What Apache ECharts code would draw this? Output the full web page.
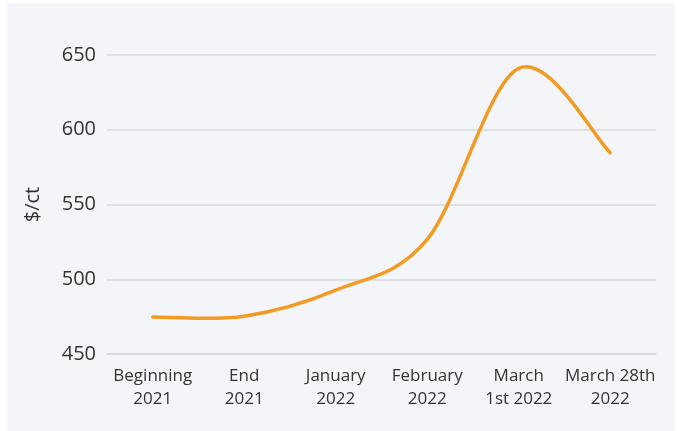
<!DOCTYPE html>
<html>
<head>
<meta charset="utf-8">
<script src="https://cdn.jsdelivr.net/npm/echarts@6/dist/echarts.min.js"></script>
<style>
html,body{margin:0;padding:0;background:#ffffff;width:681px;height:431px;overflow:hidden;}
#chart{position:absolute;left:7px;top:3px;width:668px;height:428px;}
</style>
</head>
<body>
<div id="chart"></div>
<script>
const categories = ["Beginning\n2021", "End\n2021", "January\n2022", "February\n2022", "March\n1st 2022", "March 28th\n2022"];
const prices = [474.8, 475.3, 492.7, 526.6, 641, 584.6];
const yTicks = {min: 450, max: 650, interval: 50};
const yName = "$/ct";

const seriesData = prices.map((v, i) => [i, v]);

function renderSmoothLine(params, api) {
  if (params.dataIndex !== 0) return null;
  const pts = prices.map((v, i) => api.coord([i, v]));
  const n = pts.length;
  let d = 'M' + pts[0][0] + ' ' + pts[0][1];
  for (let i = 0; i < n - 1; i++) {
    const p0 = pts[Math.max(i - 1, 0)];
    const p1 = pts[i];
    const p2 = pts[i + 1];
    const p3 = pts[Math.min(i + 2, n - 1)];
    const c1x = p1[0] + (p2[0] - p0[0]) / 6;
    const c1y = p1[1] + (p2[1] - p0[1]) / 6;
    const c2x = p2[0] - (p3[0] - p1[0]) / 6;
    const c2y = p2[1] - (p3[1] - p1[1]) / 6;
    d += ' C' + c1x + ' ' + c1y + ' ' + c2x + ' ' + c2y + ' ' + p2[0] + ' ' + p2[1];
  }
  return {
    type: 'path',
    shape: {pathData: d},
    style: {stroke: '#F29A22', lineWidth: 3.5, fill: 'none', lineCap: 'round', lineJoin: 'round'},
    silent: true
  };
}

const chart = echarts.init(document.getElementById('chart'), null, {renderer: 'canvas'});
chart.setOption({
  backgroundColor: '#F4F5F9',
  animation: false,
  textStyle: {fontFamily: 'Open Sans'},
  grid: {left: 100, right: 19, top: 52, bottom: 77},
  xAxis: {
    type: 'category',
    data: categories,
    boundaryGap: true,
    axisLine: {show: true, lineStyle: {color: '#D9D9D9', width: 1.5}},
    axisTick: {show: false},
    axisLabel: {color: '#333333', fontSize: 17, lineHeight: 23, margin: 11, interval: 0, fontFamily: 'Open Sans'}
  },
  yAxis: {
    type: 'value',
    min: yTicks.min,
    max: yTicks.max,
    interval: yTicks.interval,
    name: yName,
    nameLocation: 'middle',
    nameGap: 64,
    nameRotate: 90,
    nameTextStyle: {color: '#333333', fontSize: 20, fontFamily: 'Open Sans'},
    axisLine: {show: false},
    axisTick: {show: false},
    axisLabel: {color: '#333333', fontSize: 20, margin: 11, fontFamily: 'Open Sans'},
    splitLine: {show: true, lineStyle: {color: '#D9D9D9', width: 1.5}}
  },
  series: [{
    type: 'custom',
    data: seriesData,
    encode: {x: 0, y: 1},
    renderItem: renderSmoothLine,
    clip: true
  }]
});
</script>
</body>
</html>
